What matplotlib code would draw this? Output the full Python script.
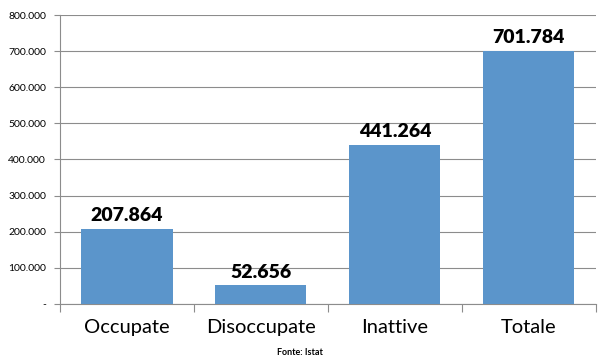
import numpy as np
import matplotlib
matplotlib.use('Agg')
import matplotlib.pyplot as plt
from matplotlib.ticker import FuncFormatter

plt.rcParams['font.family'] = ['Lato', 'DejaVu Sans']

categories = ['Occupate', 'Disoccupate', 'Inattive', 'Totale']
values = [207864, 52656, 441264, 701784]
y_ticks = [0, 100000, 200000, 300000, 400000, 500000, 600000, 700000, 800000]


def it_thousands(v, pos=None):
    if v == 0:
        return '-'
    return f'{int(v):,}'.replace(',', '.')


fig = plt.figure(figsize=(6, 3.6), dpi=100)
ax = fig.add_axes([0.1, 0.156, 0.893, 0.802])

x = np.arange(len(categories))
ax.bar(x, values, width=0.68, color='#5b95cb', zorder=3)

for xi, v in zip(x, values):
    ax.text(xi, v + 12000, it_thousands(v), ha='center', va='bottom',
            fontsize=14, fontweight='heavy', color='black', zorder=4)

ax.set_xlim(-0.5, len(categories) - 0.5)
ax.set_ylim(0, 800000)
ax.set_yticks(y_ticks)
ax.yaxis.set_major_formatter(FuncFormatter(it_thousands))
ax.grid(axis='y', color='#8c8c8c', linewidth=0.8, zorder=0)

ax.set_xticks(x)
ax.set_xticklabels(categories, fontsize=14.5)
# category boundary ticks hanging below the axis
ax.set_xticks(np.arange(-0.5, len(categories)), minor=True)
ax.tick_params(axis='x', which='major', length=0, pad=11)
ax.tick_params(axis='x', which='minor', length=6, color='#8c8c8c', width=0.8)
ax.tick_params(axis='y', length=4, color='#8c8c8c', width=0.8, labelsize=7.5, pad=6)

for s in ['top', 'right']:
    ax.spines[s].set_visible(False)
for s in ['left', 'bottom']:
    ax.spines[s].set_color('#8c8c8c')
    ax.spines[s].set_linewidth(0.8)

fig.text(0.5, 0.022, 'Fonte: Istat', ha='center', va='center',
         fontsize=6.5, fontweight='bold')

fig.savefig('out.png', dpi=100)
